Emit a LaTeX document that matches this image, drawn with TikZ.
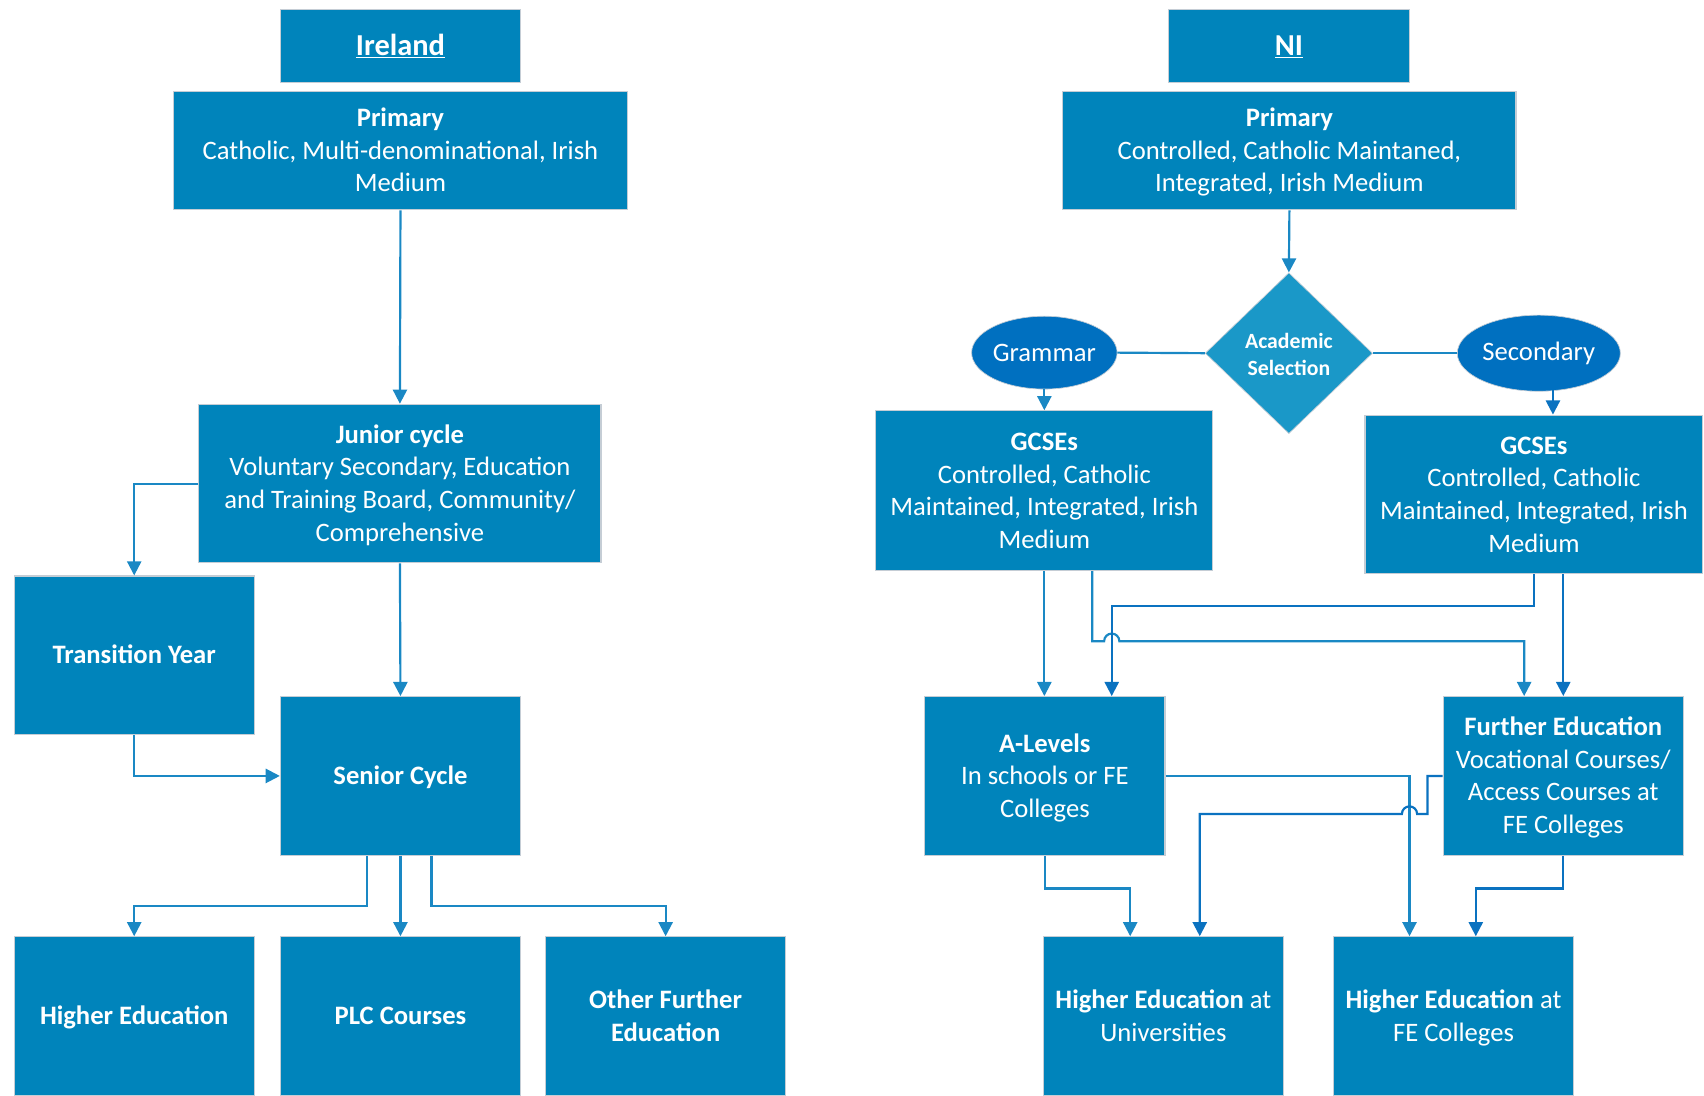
\documentclass[tikz,border=0pt]{standalone}
\usepackage{fontspec}
\setmainfont{Carlito}
\usetikzlibrary{arrows.meta,shapes.geometric,calc}
\definecolor{boxc}{HTML}{0084BB}
\definecolor{diac}{HTML}{1A98C8}
\definecolor{ellc}{HTML}{0070C0}
\definecolor{linec}{HTML}{1A88C4}
\definecolor{darkl}{HTML}{0A72C0}
\definecolor{edgec}{HTML}{C5CDD5}
\newcommand\tx[1]{\raisebox{-2pt}[\height][\depth]{\begin{tabular}{@{}c@{}}#1\end{tabular}}}
\begin{document}
\begin{tikzpicture}[x=1pt,y=-1pt,
  box/.style={rectangle,fill=boxc,draw=edgec,line width=1pt,text=white,align=center,inner sep=2pt,font=\fontsize{24.5}{30}\selectfont},
  sz/.style 2 args={minimum width=#1pt,minimum height=#2pt},
  titlebox/.style={box,font=\fontsize{28}{34}\selectfont\bfseries},
  dia/.style={diamond,fill=diac,draw=edgec,line width=0.6pt,text=white,align=center,inner sep=0pt,minimum width=154pt,minimum height=148pt,font=\fontsize{20}{25}\selectfont\bfseries},
  ell/.style={ellipse,fill=ellc,draw=edgec,line width=0.6pt,text=white,inner sep=0pt,font=\fontsize{24.5}{30}\selectfont},
  conn/.style={draw=linec,line width=2pt,-{Triangle[width=13pt,length=13pt]}},
  dconn/.style={draw=darkl,line width=2pt,-{Triangle[width=13pt,length=13pt]}},
  plain/.style={draw=linec,line width=2pt}
]
\useasboundingbox (0,0) rectangle (1568,1008);

% ---------- Ireland ----------
\node[titlebox,sz={221}{67}] (irl) at (368.5,42.5) {\tx{\underline{Ireland}}};
\node[box,sz={417}{109}] (p1) at (368.5,138.5) {\tx{\textbf{Primary}\\Catholic, Multi-denominational, Irish\\Medium}};
\node[box,sz={370}{146}] (jun) at (368,445) {\tx{\textbf{Junior cycle}\\Voluntary Secondary, Education\\and Training Board, Community/\\Comprehensive}};
\node[box,sz={221}{146}] (ty) at (123.5,603) {\tx{\textbf{Transition Year}}};
\node[box,sz={221}{146}] (sen) at (368.5,714) {\tx{\textbf{Senior Cycle}}};
\node[box,sz={221}{146}] (he) at (123.5,935) {\tx{\textbf{Higher Education}}};
\node[box,sz={221}{146}] (plc) at (368.5,935) {\tx{\textbf{PLC Courses}}};
\node[box,sz={221}{146}] (ofe) at (612.5,935) {\tx{\textbf{Other Further}\\\textbf{Education}}};

\draw[conn] (p1.south) -- (jun.north);
\draw[conn] (jun.south) -- (sen.north);
\draw[conn] (jun.west) -| (ty.north);
\draw[conn] (ty.south) |- (sen.west);
\draw[conn] ($(sen.south)+(-30.5,0)$) -- ++(0,46) -| (he.north);
\draw[conn] (sen.south) -- (plc.north);
\draw[conn] ($(sen.south)+(28.5,0)$) -- ++(0,46) -| (ofe.north);

% ---------- NI ----------
\node[titlebox,sz={222}{67}] (ni) at (1186,42.5) {\tx{\underline{NI}}};
\node[box,sz={417}{109}] (p2) at (1186.5,138.5) {\tx{\textbf{Primary}\\Controlled, Catholic Maintaned,\\Integrated, Irish Medium}};
\node[dia] (acs) at (1186,325) {\raisebox{-3pt}[\height][\depth]{\begin{tabular}{@{}c@{}}Academic\\Selection\end{tabular}}};
\node[ell,minimum width=128pt,minimum height=67pt] (gr) at (961,324.5) {Grammar};
\node[ell,minimum width=150pt,minimum height=70pt] (sec) at (1416,325) {\raisebox{-2pt}{Secondary}};
\node[box,sz={310}{147}] (g1) at (961,451.5) {\tx{\textbf{GCSEs}\\Controlled, Catholic\\Maintained, Integrated, Irish\\Medium}};
\node[box,sz={311}{146}] (g2) at (1411.5,455) {\tx{\textbf{GCSEs}\\Controlled, Catholic\\Maintained, Integrated, Irish\\Medium}};
\node[box,sz={221}{146}] (al) at (961.5,714) {\tx{\textbf{A-Levels}\\In schools or FE\\Colleges}};
\node[box,sz={221}{146}] (fe) at (1438.5,714) {\tx{\textbf{Further Education}\\Vocational Courses/\\Access Courses at\\FE Colleges}};
\node[box,sz={221}{146}] (heu) at (1070.5,935) {\tx{\textbf{Higher Education} at\\Universities}};
\node[box,sz={221}{146}] (hef) at (1337.5,935) {\tx{\textbf{Higher Education} at\\FE Colleges}};

\coordinate (hopA) at (1023,590);
\coordinate (hopB) at (1297,749);
\path ($(g2.south)+(27,0)$) coordinate (g2r);
\path ($(sec.south)+(13,0)$) coordinate (secr);

\draw[conn] (p2.south) -- (acs.north);
\draw[plain] (gr.east) -- (acs.west);
\draw[plain] (acs.east) -- (sec.west);
\draw[conn] (gr.south) -- (g1.north);
\draw[dconn] ([yshift=1pt]secr) -- (secr |- g2.north);

\draw[conn] (g1.south) -- (g1.south |- al.north);
\draw[conn] ($(g1.south)+(44,0)$) |- ([xshift=-7pt]hopA) arc[start angle=180,end angle=0,radius=7pt] -| ($(fe.north)+(-36,0)$);
\draw[dconn] (g2.south) -- ++(0,29) -| ($(al.north)+(61.5,0)$);
\draw[dconn] (g2r) -- (g2r |- fe.north);

\draw[conn] (al.south) -- ++(0,30) -| ($(heu.north)+(-30.5,0)$);
\draw[conn] (al.east) -| ($(hef.north)+(-40.5,0)$);
\draw[dconn] (fe.west) -- ++(-14,0) |- ([xshift=7pt]hopB) arc[start angle=0,end angle=180,radius=7pt] -| ($(heu.north)+(33.5,0)$);
\draw[dconn] (fe.south) -- ++(0,30) -| ($(hef.north)+(20.5,0)$);
\end{tikzpicture}
\end{document}
